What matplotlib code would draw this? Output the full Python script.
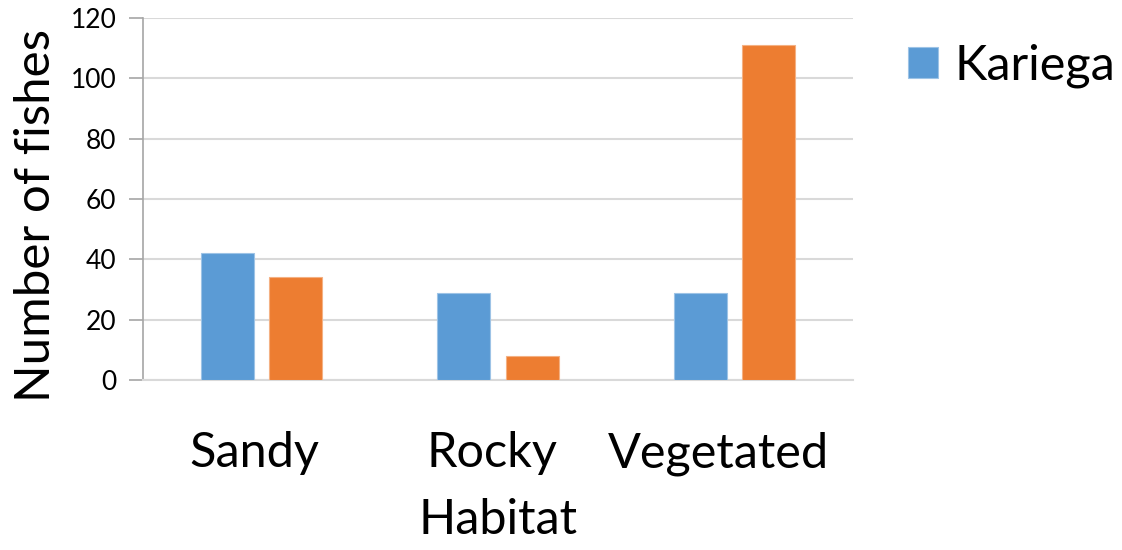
import matplotlib
matplotlib.use("Agg")
import matplotlib.pyplot as plt
import matplotlib.transforms as mtransforms
import numpy as np

plt.rcParams['font.family'] = ['Lato', 'DejaVu Sans']

habitats = ["Sandy", "Rocky", "Vegetated"]
kariega = [42, 29, 29]
second_site = [34, 8, 111]
y_ticks = [0, 20, 40, 60, 80, 100, 120]

BLUE = "#5B9BD5"
ORANGE = "#ED7D31"
GRID = "#D9D9D9"
AXIS = "#A6A6A6"

W, H = 1122, 550
fig = plt.figure(figsize=(W / 100, H / 100), dpi=100)
ax = fig.add_axes([143 / W, 1 - 380 / H, (853 - 143) / W, (380 - 18) / H])

x = np.arange(len(habitats))
width = 0.224
offset = 0.1437
ax.bar(x - offset, kariega, width, color=BLUE, edgecolor="#9DC3E6", linewidth=0.8,
       label="Kariega", zorder=3)
ax.bar(x + offset, second_site, width, color=ORANGE, edgecolor="#F4B183", linewidth=0.8,
       label="_nolegend_", zorder=3)

ax.set_xlim(-0.5, 2.5)
ax.set_ylim(0, 120)
ax.set_yticks(y_ticks)
ax.set_yticklabels([str(t) for t in y_ticks], fontsize=19)
ax.set_xticks(x)
ax.set_xticklabels(habitats, fontsize=35)
ax.tick_params(axis='x', length=0, pad=37)
ax.tick_params(axis='y', length=10, width=1.2, color=AXIS, pad=9)

# nudge category labels slightly left so the last one stays inside the plot width
for lbl, dx in zip(ax.get_xticklabels(), [-7, -6, -16]):
    lbl.set_transform(lbl.get_transform() +
                      mtransforms.ScaledTranslation(dx / 100, 0, fig.dpi_scale_trans))

ax.yaxis.grid(True, color=GRID, linewidth=1.5, zorder=0)
for side in ("top", "right"):
    ax.spines[side].set_visible(False)
ax.spines["left"].set_color(AXIS)
ax.spines["left"].set_linewidth(1.2)
ax.spines["bottom"].set_color(GRID)
ax.spines["bottom"].set_linewidth(1.5)

ax.set_ylabel("Number of fishes", fontsize=35.5)
ax.yaxis.set_label_coords(-0.12, 0.455)
ax.set_xlabel("Habitat", fontsize=35, labelpad=16)

fig.legend(loc="center left", bbox_to_anchor=(908 / W, 1 - 66 / H),
           bbox_transform=fig.transFigure, frameon=False, fontsize=35,
           borderpad=0, borderaxespad=0,
           handlelength=0.62, handleheight=0.62, handletextpad=0.33)

fig.savefig("out.png", dpi=100)
